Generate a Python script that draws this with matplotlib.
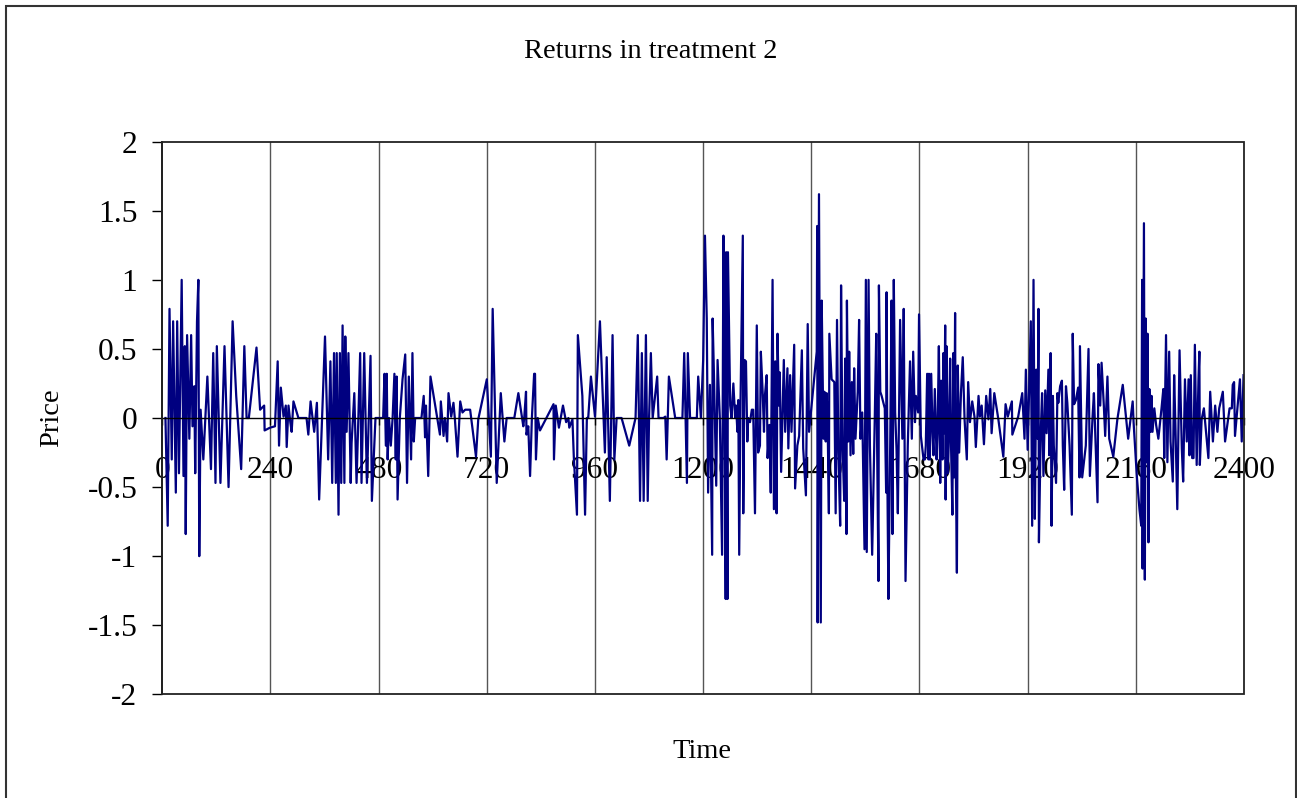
import matplotlib
matplotlib.use('Agg')
import matplotlib.pyplot as plt
from matplotlib.patches import Rectangle

# time stamps and returns
times = [
    7, 12, 16, 21, 24, 30, 33, 37, 43, 47, 50, 52, 55, 60, 64, 67, 71, 73, 77, 80,
    82, 85, 91, 100, 108, 113, 118, 121, 129, 138, 147, 156, 164, 175, 182, 187, 192, 209, 217, 226,
    227, 239,
    250, 256, 259, 263, 269, 274, 276, 280, 284, 287, 291, 302, 320, 324, 329, 337, 343, 348,
    361, 368, 373, 377, 381, 385, 387, 391, 394, 397, 400, 404, 406, 409, 413, 418, 420, 426, 431, 439,
    442, 448, 454, 462, 465, 473, 490,
    493, 496, 498, 500, 503, 507, 511, 515, 518, 520, 522, 527, 533, 539, 543, 547, 552, 555, 558, 561,
    575, 580, 583, 585, 590, 595, 616, 618, 624, 627, 632, 635, 641, 646, 649, 655, 661, 666, 672, 683,
    696, 701, 720,
    729, 733, 742, 751, 759, 764, 781, 790, 801, 803, 807, 808, 812, 816, 820, 825, 827, 829, 833, 838,
    868, 869, 873, 880, 889, 896, 901, 903, 910, 913, 920, 922, 932, 938, 942, 945, 951, 960, 971,
    982, 986, 993, 999, 1003, 1008, 1019, 1036, 1050, 1055, 1060, 1064, 1068, 1073, 1077, 1080, 1084, 1088, 1098, 1101,
    1112, 1116, 1119, 1124, 1138, 1154, 1158, 1164, 1166, 1171, 1186, 1189, 1195, 1200,
    1204, 1208, 1211, 1215, 1220, 1221, 1224, 1229, 1232, 1237, 1242, 1245, 1248, 1250, 1251, 1254, 1255, 1260, 1263, 1267,
    1271, 1273, 1276, 1278, 1280, 1283, 1288, 1289, 1292, 1295, 1298, 1300, 1304, 1308, 1311, 1315, 1319, 1322, 1326, 1328,
    1332, 1335, 1337, 1341, 1343, 1347, 1350, 1354, 1357, 1360, 1363, 1365, 1368, 1370, 1373, 1379, 1382, 1387, 1389, 1393,
    1396, 1402, 1404, 1409, 1413, 1419, 1422, 1428, 1432, 1435,
    1452, 1453, 1454, 1457, 1461, 1463, 1467, 1469, 1472, 1474, 1476, 1479, 1480, 1485, 1491, 1494, 1497, 1500, 1504, 1506,
    1509, 1513, 1515, 1518, 1519, 1522, 1524, 1527, 1530, 1533, 1535, 1538, 1543, 1546, 1549, 1553, 1558, 1561, 1563, 1567,
    1570, 1575, 1581, 1584, 1586, 1589, 1590, 1593, 1596, 1603, 1606, 1607, 1609, 1611, 1615, 1618, 1620, 1623, 1626, 1629,
    1632, 1637, 1642, 1645, 1649, 1654, 1659, 1663, 1666, 1670, 1672, 1677, 1679,
    1683, 1689, 1692, 1694, 1697, 1700, 1701, 1703, 1706, 1709, 1711, 1714, 1718, 1720, 1723, 1726, 1728, 1731, 1733, 1735,
    1737, 1738, 1740, 1743, 1745, 1748, 1750, 1753, 1755, 1757, 1759, 1760, 1763, 1765, 1768, 1772, 1776, 1780, 1785, 1788,
    1792, 1797, 1802, 1805, 1811, 1814, 1818, 1823, 1828, 1833, 1837, 1840, 1846, 1855, 1866, 1871, 1876, 1885, 1886, 1899,
    1908, 1913, 1916, 1920,
    1927, 1930, 1933, 1936, 1939, 1942, 1944, 1945, 1949, 1952, 1955, 1959, 1962, 1966, 1968, 1971, 1973, 1976, 1978, 1983,
    1986, 1988, 1992, 1996, 1998, 2001, 2005, 2008, 2013, 2018, 2020, 2023, 2027, 2032, 2035, 2036, 2041, 2049, 2055, 2058,
    2064, 2067, 2075, 2077, 2081, 2084, 2089, 2092, 2097, 2101, 2110, 2119, 2131, 2138, 2143, 2153,
    2155, 2162, 2168, 2172, 2174, 2175, 2178, 2180, 2182, 2184, 2186, 2188, 2190, 2193, 2195, 2197, 2201, 2205, 2210, 2217,
    2221, 2223, 2227, 2230, 2234, 2237, 2242, 2245, 2248, 2252, 2257, 2262, 2265, 2269, 2273, 2277, 2279, 2282, 2285, 2288,
    2291, 2295, 2299, 2301, 2302, 2306, 2311, 2321, 2325, 2331, 2336, 2341, 2345, 2353, 2358, 2368, 2373, 2375, 2378, 2380,
    2391, 2395, 2399,
]

returns = [
    0, -0.78, 0.79, -0.30, 0.70, -0.54, 0.70, -0.40, 1.00, -0.42, 0.52, -0.84, 0.60, -0.15, 0.60, -0.06, 0.23, -0.40, 0.70, 1.00,
    -1.00, 0.06, -0.30, 0.30, -0.37, 0.47, -0.47, 0.52, -0.47, 0.52, -0.50, 0.70, 0.16, -0.37, 0.52, 0, 0, 0.51, 0.06, 0.09,
    -0.09, -0.07,
    -0.06, 0.41, -0.20, 0.22, 0.01, 0.09, -0.21, 0.09, -0.03, -0.10, 0.12, 0, 0, -0.12, 0.12, -0.10, 0.11, -0.59,
    0.59, -0.30, 0.41, -0.47, 0.47, -0.47, 0.47, -0.70, 0.47, -0.47, 0.67, -0.47, 0.59, -0.10, 0.47, -0.47, -0.18, 0.18, -0.47, 0.47,
    -0.47, 0.47, -0.47, 0.45, -0.60, 0, 0,
    0.32, -0.20, 0.32, -0.30, 0, -0.20, 0, 0.32, -0.30, 0.30, -0.59, 0, 0.28, 0.46, -0.47, 0.30, -0.30, 0.47, -0.17, 0,
    0, 0.16, -0.14, 0.09, -0.42, 0.30, -0.12, 0.12, -0.13, 0, -0.17, 0.18, 0.01, 0.11, 0, -0.28, 0.12, 0.04, 0.06, 0.06,
    -0.28, -0.01, 0.28,
    -0.28, 0.79, -0.47, 0.18, -0.17, 0, 0, 0.18, -0.06, 0, 0.19, -0.12, -0.06, -0.42, 0, 0.32, 0.32, -0.30, 0, -0.09,
    0.10, -0.30, 0.09, -0.07, 0.09, -0.03, 0, -0.07, -0.01, -0.28, -0.70, 0.60, 0.16, -0.70, 0, 0, 0.30, 0.01, 0.70,
    -0.25, 0.44, -0.60, 0.60, -0.30, 0, 0, -0.20, 0, 0.60, -0.60, 0.47, -0.60, 0.60, -0.60, 0, 0.47, 0, 0.30, 0,
    0, 0.01, -0.30, 0.30, 0, 0, 0.47, -0.47, 0.47, 0, 0, 0.30, 0, 0.42,
    1.32, 0.72, -0.54, 0.24, -0.99, 0.72, 0.31, -0.49, 0.42, 0, -0.99, 1.32, -0.12, -1.31, 1.20, -1.31, 1.20, 0.09, 0, 0.25,
    0, 0.09, -0.10, 0.13, -0.99, 0.14, 1.32, -0.69, 0.42, 0.41, -0.17, 0, -0.03, 0.06, 0.06, -0.69, 0.67, -0.25, -0.20, 0.48,
    0.19, -0.10, 0.16, 0.31, -0.29, -0.05, -0.54, 1.00, -0.66, 0.41, -0.69, 0.61, 0.09, 0.33, -0.39, 0.42, -0.10, 0.36, -0.22, 0.31,
    -0.10, 0.53, -0.51, -0.20, -0.13, 0.49, -0.22, -0.56, 0.68, -0.10,
    0.48, 1.39, -1.48, 1.62, -1.48, 0.85, -0.15, 0.19, -0.17, 0.18, 0, -0.69, 0.61, 0.28, 0.26, -0.69, 0.71, -0.25, -0.78, 0.96,
    -0.17, -0.60, 0.43, -0.84, 0.85, -0.17, 0.48, -0.27, 0.26, -0.26, 0.36, -0.15, 0.19, 0.71, -0.15, 0.04, -0.95, 1.00, -0.97, 1.00,
    -0.20, -0.99, 0.04, 0.61, -0.20, -1.18, 0.96, 0.19, 0.16, 0.07, -0.54, 0.91, -0.53, -1.31, -0.20, 0.85, -0.84, 1.00, 0.04, -0.22,
    -0.69, 0.71, -0.15, 0.79, -1.18, -0.20, 0.41, -0.15, 0.48, -0.03, 0.16, 0.04, 0.75,
    -0.13, -0.30, -0.30, -0.20, 0.32, -0.30, 0.32, -0.30, 0.32, -0.11, -0.27, 0.21, -0.30, -0.11, 0.52, -0.47, 0.27, -0.30, 0.47, -0.11,
    0.67, -0.59, 0.52, -0.40, -0.17, 0.43, -0.20, -0.70, 0.47, -0.43, 0.76, -0.18, -1.12, 0.38, -0.25, 0.18, 0.44, -0.01, -0.30, 0.26,
    -0.03, 0.12, 0.01, -0.21, 0.16, 0.01, 0.09, -0.19, 0.16, -0.01, 0.21, -0.11, 0.18, -0.01, -0.28, 0.10, 0.01, 0.12, -0.12, 0.01,
    0.18, -0.15, 0.35, -0.23,
    0.70, -0.78, 1.00, -0.73, 0.35, -0.15, 0.79, -0.90, -0.11, 0.18, -0.42, 0.20, -0.11, 0.35, -0.27, 0.47, -0.78, 0.16, -0.20, -0.47,
    0.18, 0.11, 0.23, 0.27, -0.20, -0.52, 0.23, 0.11, -0.20, -0.70, 0.61, 0.10, 0.13, 0.22, -0.43, 0.52, -0.43, -0.20, 0.50, -0.42,
    0.01, 0.18, -0.61, 0.39, 0.09, 0.40, 0.09, -0.13, 0.30, -0.15, -0.28, -0.01, 0.24, 0.01, -0.15, 0.12,
    -0.03, -0.41, -0.66, -0.78, 1.00, -1.09, 1.41, -1.17, 0.72, -0.32, 0.61, -0.90, 0.21, -0.10, 0.16, -0.10, 0.07, -0.05, -0.15, 0.07,
    0.21, -0.29, 0.60, -0.32, 0.48, -0.17, -0.46, 0.31, -0.08, -0.66, 0.49, -0.22, -0.46, 0.28, -0.17, 0.28, -0.27, 0.31, -0.29, -0.29,
    0.53, -0.34, 0.28, 0.48, -0.34, -0.01, 0.07, -0.29, 0.19, -0.17, 0.09, -0.10, 0.07, 0.19, -0.17, 0.07, 0.07, 0.24, 0.26, -0.13,
    0.28, -0.17, 0.31,
]

xticks = list(range(0, 2401, 240))
yticks = [-2, -1.5, -1, -0.5, 0, 0.5, 1, 1.5, 2]

plt.rcParams['font.family'] = ['Liberation Serif', 'DejaVu Serif']
plt.rcParams['axes.unicode_minus'] = False

W, H = 1297, 798
fig = plt.figure(figsize=(W / 100, H / 100), dpi=100)
ax = fig.add_axes([162.3 / W, 1 - 694.3 / H, (1244 - 162.3) / W, (694.3 - 141.7) / H])

# vertical gridlines every 240
for t in xticks[1:-1]:
    ax.axvline(t, color='#555555', lw=1.0, zorder=1)

ax.plot(times, returns, color='#000080', lw=1.6, zorder=3)

ax.set_xlim(0, 2400)
ax.set_ylim(-2, 2)
ax.set_xticks(xticks)
ax.set_xticklabels([str(t) for t in xticks])
ax.set_yticks(yticks)
ax.set_yticklabels(['%g' % v for v in yticks])

# x axis crosses at zero like in the spreadsheet chart
ax.spines['bottom'].set_position(('data', 0))
ax.spines['bottom'].set_linewidth(1.0)
ax.spines['bottom'].set_zorder(4)
for s in ['top', 'right']:
    ax.spines[s].set_visible(False)
ax.spines['left'].set_linewidth(1.2)
ax.add_patch(Rectangle((0, 0), 1, 1, transform=ax.transAxes, fill=False,
                       ec='#222222', lw=1.3, clip_on=False, zorder=5))

ax.tick_params(axis='y', direction='out', length=7, width=1, labelsize=22.7, pad=11)
ax.tick_params(axis='x', direction='out', length=5, width=1, labelsize=22.7, pad=22)

# outer chart border
fig.patches.append(Rectangle((5.5 / W, -0.01), (1295.5 - 5.5) / W, 1.01 - 6 / H,
                             transform=fig.transFigure, fill=False, ec='#333333', lw=1.5))

fig.text(651 / W, 1 - 52 / H, 'Returns in treatment 2', ha='center', va='center', fontsize=20.5)
fig.text(702 / W, 1 - 751 / H, 'Time', ha='center', va='center', fontsize=20.5)
fig.text(52 / W, 1 - 418 / H, 'Price', ha='center', va='center', rotation=90, fontsize=20.5)

fig.savefig('out.png', dpi=100)
